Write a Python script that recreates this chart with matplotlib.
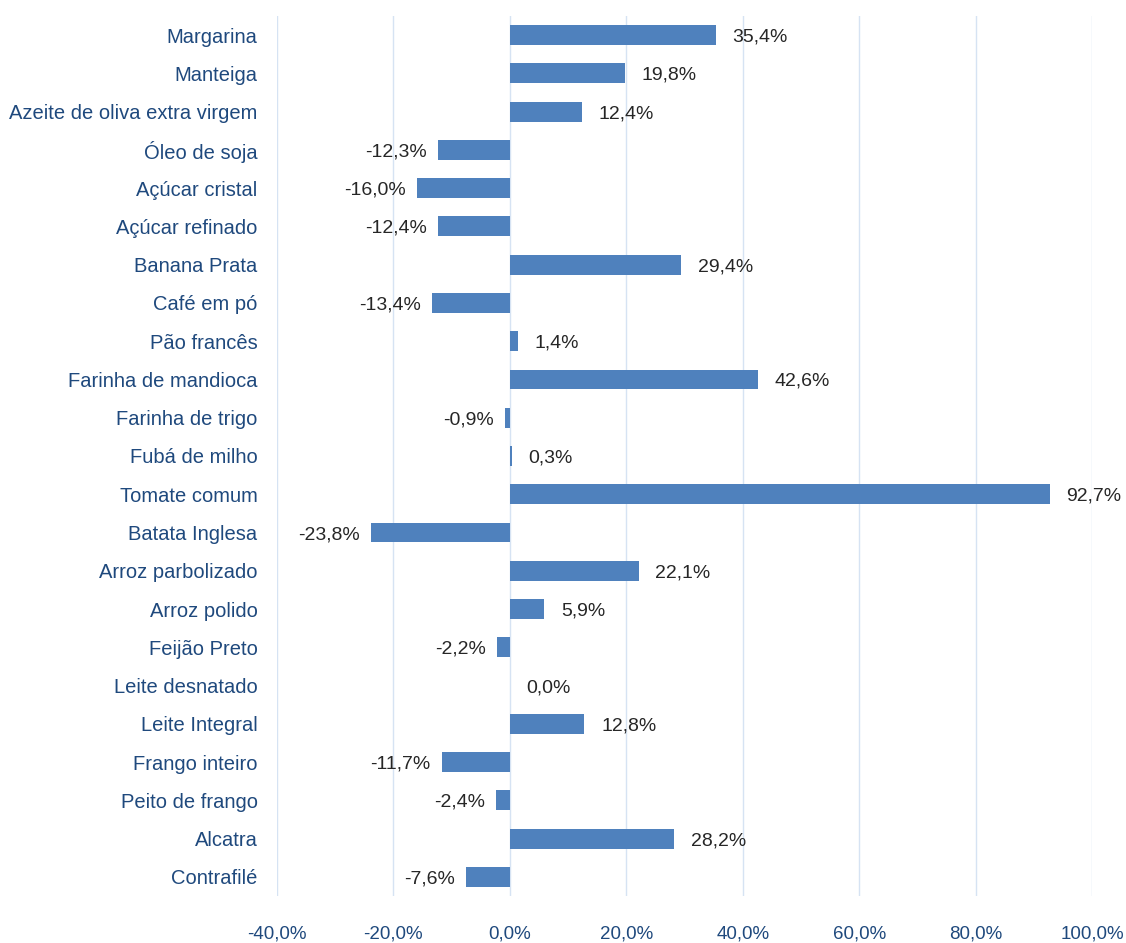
#!/usr/bin/env python3
# Variação de preços - barras horizontais

import numpy as np
import matplotlib.pyplot as plt

produtos = ['Margarina', 'Manteiga', 'Azeite de oliva extra virgem', 'Óleo de soja',
            'Açúcar cristal', 'Açúcar refinado', 'Banana Prata', 'Café em pó',
            'Pão francês', 'Farinha de mandioca', 'Farinha de trigo', 'Fubá de milho',
            'Tomate comum', 'Batata Inglesa', 'Arroz parbolizado', 'Arroz polido',
            'Feijão Preto', 'Leite desnatado', 'Leite Integral', 'Frango inteiro',
            'Peito de frango', 'Alcatra', 'Contrafilé']
variacao = [35.4, 19.8, 12.4, -12.3, -16.0, -12.4, 29.4, -13.4, 1.4, 42.6, -0.9, 0.3,
            92.7, -23.8, 22.1, 5.9, -2.2, 0.0, 12.8, -11.7, -2.4, 28.2, -7.6]
xticks = [-40, -20, 0, 20, 40, 60, 80, 100]

FONT = ['Liberation Sans Narrow', 'DejaVu Sans Condensed', 'Liberation Sans', 'DejaVu Sans']
AZUL_TXT = '#1F497D'

def fmt(v):
    return f'{v:.1f}%'.replace('.', ',')

fig = plt.figure(figsize=(11.26, 9.43), dpi=100)
ax = fig.add_axes([277/1126, 1-896/943, (1092-277)/1126, (896-16)/943])

ypos = np.arange(len(produtos))
ax.barh(ypos, variacao, height=0.52, color='#4F81BD', zorder=2)

for y, v in zip(ypos, variacao):
    if v >= 0:
        ax.annotate(fmt(v), (v, y), xytext=(12, 0), textcoords='offset points',
                    ha='left', va='center_baseline', fontsize=14, color='#262626', family=FONT)
    else:
        ax.annotate(fmt(v), (v, y), xytext=(-8, 0), textcoords='offset points',
                    ha='right', va='center_baseline', fontsize=14, color='#262626', family=FONT)

ax.set_xlim(-40, 100)
ax.set_ylim(len(produtos)-0.5, -0.5)
ax.set_yticks(ypos)
ax.set_yticklabels(produtos, fontsize=14.5, color=AZUL_TXT, family=FONT, va='center_baseline')
ax.set_xticks(xticks)
ax.set_xticklabels([fmt(t) for t in xticks], fontsize=13.5, color=AZUL_TXT, family=FONT)
ax.tick_params(axis='both', length=0)
ax.tick_params(axis='x', pad=21)
ax.tick_params(axis='y', pad=14)
ax.grid(axis='x', color='#D6E3F3', linewidth=1, zorder=0)
for s in ax.spines.values():
    s.set_visible(False)

plt.savefig('out.png', dpi=100)
